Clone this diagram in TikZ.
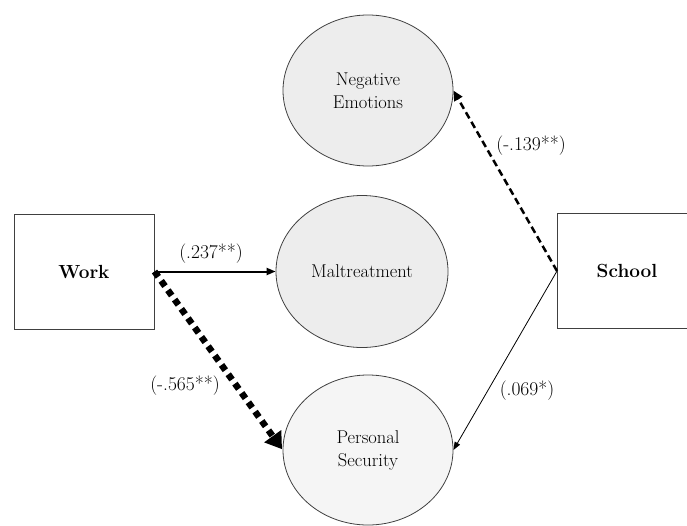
\documentclass[tikz,border=0pt]{standalone}
\usetikzlibrary{arrows.meta,shapes.geometric}
\begin{document}
\begin{tikzpicture}[x=1pt,y=-1pt,
  every node/.style={font=\rmfamily\fontsize{18.5}{23}\selectfont, align=center},
  varbox/.style={draw=black!75, line width=0.8pt, fill=white, minimum width=140pt, minimum height=115pt, inner sep=0pt, font=\rmfamily\fontsize{19}{23}\selectfont\bfseries},
  latent/.style={ellipse, draw=black!75, line width=0.8pt, fill=black!7, inner sep=0pt},
  lbl/.style={font=\rmfamily\fontsize{19.5}{23}\selectfont, inner sep=0pt}
]
\useasboundingbox (0,0) rectangle (687,525);
\clip (0,0) rectangle (687,525);
\node[varbox] (work) at (84,271.5) {Work};
\node[varbox] (school) at (627,271) {School};
\node[latent, minimum width=170pt, minimum height=151pt] (neg) at (368,90.5) {Negative\\Emotions};
\node[latent, minimum width=172pt, minimum height=152pt] (mal) at (362,271.5) {Maltreatment};
\node[latent, fill=black!4, minimum width=170pt, minimum height=150pt] (sec) at (368,450) {Personal\\Security};
\coordinate (wS) at (154.5,271.5);
\coordinate (sS) at (557,271);
\draw[line width=2pt, -{Triangle[length=9pt,width=7pt]}] (wS) -- (mal.west);
\draw[line width=6.5pt, dash pattern=on 6.5pt off 5pt, -{Triangle[length=16pt,width=20pt]}, shorten >=1pt] (wS) -- (sec.west);
\draw[line width=2.5pt, dash pattern=on 7pt off 4pt, -{Triangle[length=10pt,width=9pt]}] (sS) -- (neg.east);
\draw[line width=0.8pt, -{Triangle[length=8pt,width=6pt]}] (sS) -- (sec.east);
\node[lbl] (l1) at (211,254) {(.237**)};
\node[lbl] (l2) at (185,386) {(-.565**)};
\node[lbl] (l3) at (531,146) {(-.139**)};
\node[lbl] (l4) at (527,391) {(.069*)};
\end{tikzpicture}
\end{document}
